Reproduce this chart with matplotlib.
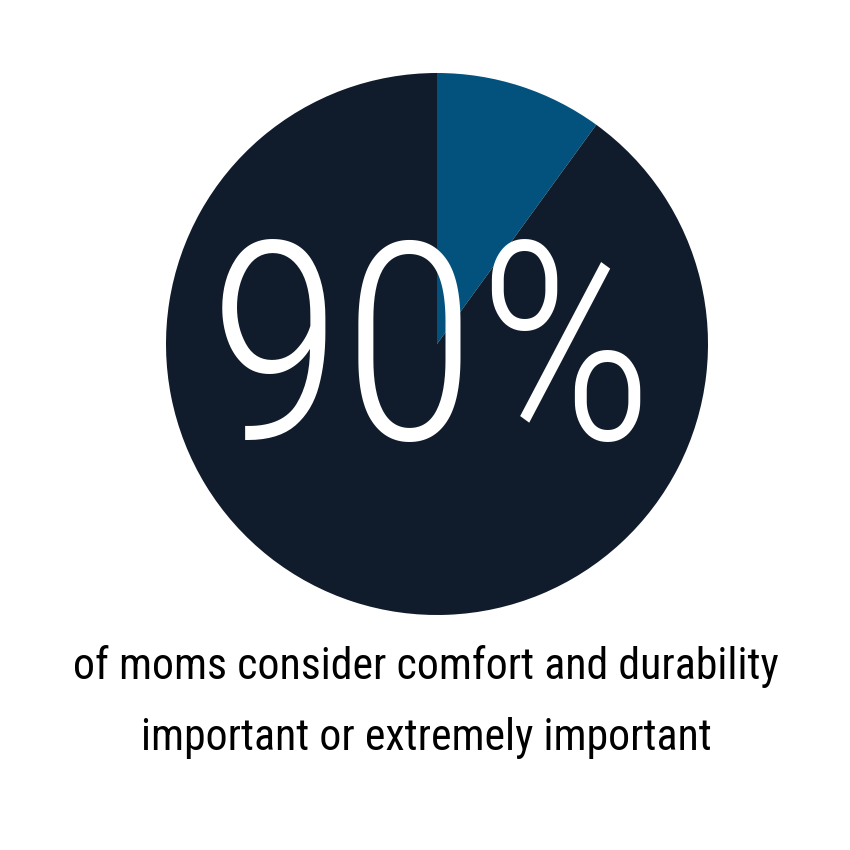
import matplotlib
matplotlib.use("Agg")
import matplotlib.pyplot as plt
from matplotlib.font_manager import FontProperties
from matplotlib.textpath import TextPath

# share of moms, in percent
labels = ["Important or extremely important", "Other"]
values = [90, 10]
colors = ["#101c2b", "#02527d"]
headline = "90%"
caption = ["of moms consider comfort and durability",
           "important or extremely important"]

W = H = 850
DPI = 100
FONT = "Roboto Condensed"


def ink(s, prop):
    # ink box of a string at size 100
    ext = TextPath((0, 0), s, size=100, prop=prop).get_extents()
    return ext.x0, ext.y0, ext.x1, ext.y1


def px_to_pt(px):
    return px * 72 / DPI


fig = plt.figure(figsize=(W / DPI, H / DPI), dpi=DPI)

# pie: centre (437, 344), radius 271 px
cx, cy, r = 437, 344, 271
ax = fig.add_axes([(cx - r) / W, 1 - (cy + r) / H, 2 * r / W, 2 * r / H])
ax.pie(values[::-1], colors=colors[::-1], startangle=90, counterclock=False,
       wedgeprops=dict(linewidth=0))
ax.set_xlim(-1, 1)
ax.set_ylim(-1, 1)
ax.set_aspect("equal")
ax.axis("off")

# headline, ink from y=239 to 442, centred on x=432
hp = FontProperties(family=FONT, weight=300)
x0, y0, x1, y1 = ink(headline, hp)
fs = px_to_pt(203) * 100 / (y1 - y0)
scale = fs / 100 / 72 * DPI  # px per textpath unit
base_y = 442 + y0 * scale
fig.text((432 - (x0 + x1) / 2 * scale) / W, 1 - base_y / H, headline,
         ha="left", va="baseline", color="white", fontproperties=hp, size=fs)

# caption, first line ink width 702 px
cp = FontProperties(family=FONT, weight=400)
x0, y0, x1, y1 = ink(caption[0], cp)
cfs = px_to_pt(702) * 100 / (x1 - x0)
for line, base in zip(caption, [679, 750]):
    fig.text(426 / W, 1 - base / H, line, ha="center", va="baseline",
             color="black", fontproperties=cp, size=cfs)

fig.savefig("out.png", dpi=DPI, facecolor="white")
